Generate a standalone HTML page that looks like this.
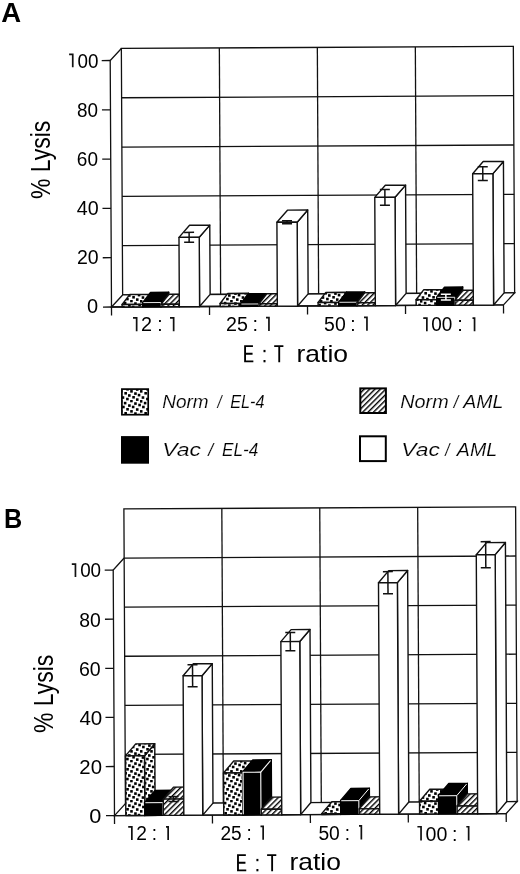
<!DOCTYPE html>
<html><head><meta charset="utf-8"><style>
html,body{margin:0;padding:0;background:#fff;}
body{width:520px;height:874px;overflow:hidden;font-family:"Liberation Sans",sans-serif;}
svg{display:block;will-change:transform;}
text{fill:#000;font-family:"Liberation Sans",sans-serif;}
text[font-style]{stroke:#fff;stroke-width:0.15px;}
</style></head><body>
<svg width="520" height="874" viewBox="0 0 520 874">
<defs>
<pattern id="pdot" patternUnits="userSpaceOnUse" width="20" height="20">
<rect width="20" height="20" fill="#fff"/>
<g fill="#000"><rect x="-0.18" y="0.03" width="2.6" height="2.6"/><rect x="-0.09" y="10.07" width="2.6" height="2.6"/><rect x="2.09" y="5.70" width="2.6" height="2.6"/><rect x="1.66" y="16.24" width="2.6" height="2.6"/><rect x="3.83" y="1.81" width="2.6" height="2.6"/><rect x="4.35" y="11.98" width="2.6" height="2.6"/><rect x="6.24" y="7.98" width="2.6" height="2.6"/><rect x="6.10" y="17.76" width="2.6" height="2.6"/><rect x="6.10" y="-2.24" width="2.6" height="2.6"/><rect x="8.09" y="4.26" width="2.6" height="2.6"/><rect x="8.02" y="14.17" width="2.6" height="2.6"/><rect x="10.12" y="-0.31" width="2.6" height="2.6"/><rect x="10.18" y="10.06" width="2.6" height="2.6"/><rect x="11.86" y="5.67" width="2.6" height="2.6"/><rect x="12.26" y="15.98" width="2.6" height="2.6"/><rect x="14.15" y="2.27" width="2.6" height="2.6"/><rect x="14.15" y="12.29" width="2.6" height="2.6"/><rect x="15.93" y="8.21" width="2.6" height="2.6"/><rect x="15.96" y="18.30" width="2.6" height="2.6"/><rect x="15.96" y="-1.70" width="2.6" height="2.6"/><rect x="18.27" y="3.72" width="2.6" height="2.6"/><rect x="-1.73" y="3.72" width="2.6" height="2.6"/><rect x="17.75" y="13.80" width="2.6" height="2.6"/><rect x="-2.25" y="13.80" width="2.6" height="2.6"/></g></pattern>
<pattern id="phat" patternUnits="userSpaceOnUse" width="3.8" height="3.8" patternTransform="rotate(45)">
<rect width="3.8" height="3.8" fill="#fff"/>
<rect x="0" y="0" width="1.4" height="3.8" fill="#000"/>
</pattern>
</defs>
<rect width="520" height="874" fill="#fff"/>
<polygon points="122.64,294.94 121.35,48.44 513.34,46.39 514.63,292.89" fill="#fff" stroke="#111" stroke-width="1.3" /><polyline points="122.38,245.64 514.37,243.59" fill="none" stroke="#111" stroke-width="1.3" /><polyline points="122.12,196.34 514.12,194.29" fill="none" stroke="#111" stroke-width="1.3" /><polyline points="121.86,147.04 513.86,144.99" fill="none" stroke="#111" stroke-width="1.3" /><polyline points="121.6,97.74 513.6,95.69" fill="none" stroke="#111" stroke-width="1.3" /><polyline points="219.35,47.93 220.64,294.43" fill="none" stroke="#111" stroke-width="1.3" /><polyline points="317.34,47.42 318.63,293.92" fill="none" stroke="#111" stroke-width="1.3" /><polyline points="415.34,46.91 416.63,293.4" fill="none" stroke="#111" stroke-width="1.3" /><polygon points="111.5,307 122.64,294.94 514.63,292.89 503.49,304.95" fill="#fff" stroke="#111" stroke-width="1.3" /><polyline points="111.54,315.5 110.21,60.5 121.35,48.44" fill="none" stroke="#111" stroke-width="1.3" /><polyline points="103,307.04 111.5,307" fill="none" stroke="#111" stroke-width="1.3" /><polyline points="102.74,257.75 111.24,257.7" fill="none" stroke="#111" stroke-width="1.3" /><polyline points="102.48,208.45 110.98,208.4" fill="none" stroke="#111" stroke-width="1.3" /><polyline points="102.23,159.15 110.73,159.1" fill="none" stroke="#111" stroke-width="1.3" /><polyline points="101.97,109.85 110.47,109.8" fill="none" stroke="#111" stroke-width="1.3" /><polyline points="101.71,60.55 110.21,60.5" fill="none" stroke="#111" stroke-width="1.3" /><polyline points="111.5,307 503.49,304.95" fill="none" stroke="#111" stroke-width="1.3" /><polyline points="209.5,306.49 209.54,314.99" fill="none" stroke="#111" stroke-width="1.3" /><polyline points="307.5,305.97 307.54,314.47" fill="none" stroke="#111" stroke-width="1.3" /><polyline points="405.5,305.46 405.54,313.96" fill="none" stroke="#111" stroke-width="1.3" /><polyline points="503.49,304.95 503.54,313.45" fill="none" stroke="#111" stroke-width="1.3" /><polygon points="142.8,306.84 142.79,304.37 150.53,294.33 150.55,296.8" fill="url(#pdot)" stroke="#111" stroke-width="1.4" stroke-linejoin="round"/><polygon points="122.09,304.48 129.83,294.44 150.53,294.33 142.79,304.37" fill="url(#pdot)" stroke="#111" stroke-width="1.4" stroke-linejoin="round"/><polygon points="122.1,306.94 122.09,304.48 142.79,304.37 142.8,306.84" fill="url(#pdot)" stroke="#111" stroke-width="1.4" stroke-linejoin="round"/><polygon points="161,306.74 160.98,302.3 168.72,292.26 168.75,296.7" fill="#000" stroke="#000" stroke-width="1.4" stroke-linejoin="round"/><polygon points="142.78,302.4 150.52,292.36 168.72,292.26 160.98,302.3" fill="#000" stroke="#000" stroke-width="1.4" stroke-linejoin="round"/><polygon points="142.8,306.84 142.78,302.4 160.98,302.3 161,306.74" fill="#000" stroke="#000" stroke-width="1.4" stroke-linejoin="round"/><polyline points="143.38,302.6 160.78,302.5 160.8,306.14" fill="none" stroke="#fff" stroke-width="0.9" /><polygon points="179.35,306.64 179.34,304.18 187.08,294.14 187.1,296.6" fill="url(#phat)" stroke="#111" stroke-width="1.4" stroke-linejoin="round"/><polygon points="160.99,304.28 168.73,294.24 187.08,294.14 179.34,304.18" fill="url(#phat)" stroke="#111" stroke-width="1.4" stroke-linejoin="round"/><polygon points="161,306.74 160.99,304.28 179.34,304.18 179.35,306.64" fill="url(#phat)" stroke="#111" stroke-width="1.4" stroke-linejoin="round"/><polygon points="199.6,306.54 199.24,237.27 209.77,225.12 210.14,294.38" fill="#fff" stroke="#111" stroke-width="1.4" stroke-linejoin="round"/><polygon points="178.99,237.38 189.52,225.22 209.77,225.12 199.24,237.27" fill="#fff" stroke="#111" stroke-width="1.4" stroke-linejoin="round"/><polygon points="179.35,306.64 178.99,237.38 199.24,237.27 199.6,306.54" fill="#fff" stroke="#111" stroke-width="1.4" stroke-linejoin="round"/><polyline points="189.09,232.4 189.14,242.26" fill="none" stroke="#111" stroke-width="1.5" /><polyline points="184.09,232.42 194.09,232.37" fill="none" stroke="#111" stroke-width="1.5" /><polyline points="184.14,242.28 194.14,242.23" fill="none" stroke="#111" stroke-width="1.5" /><polygon points="240.8,306.32 240.78,303.37 248.53,293.32 248.55,296.28" fill="url(#pdot)" stroke="#111" stroke-width="1.4" stroke-linejoin="round"/><polygon points="220.08,303.47 227.83,293.43 248.53,293.32 240.78,303.37" fill="url(#pdot)" stroke="#111" stroke-width="1.4" stroke-linejoin="round"/><polygon points="220.1,306.43 220.08,303.47 240.78,303.37 240.8,306.32" fill="url(#pdot)" stroke="#111" stroke-width="1.4" stroke-linejoin="round"/><polygon points="259,306.23 258.99,303.76 266.73,293.72 266.75,296.19" fill="#000" stroke="#000" stroke-width="1.4" stroke-linejoin="round"/><polygon points="240.79,303.86 248.53,293.82 266.73,293.72 258.99,303.76" fill="#000" stroke="#000" stroke-width="1.4" stroke-linejoin="round"/><polygon points="240.8,306.32 240.79,303.86 258.99,303.76 259,306.23" fill="#000" stroke="#000" stroke-width="1.4" stroke-linejoin="round"/><polyline points="241.39,304.05 258.79,303.96 258.79,305.63" fill="none" stroke="#fff" stroke-width="0.9" /><polygon points="277.35,306.13 277.33,303.67 285.08,293.63 285.1,296.09" fill="url(#phat)" stroke="#111" stroke-width="1.4" stroke-linejoin="round"/><polygon points="258.99,303.76 266.73,293.72 285.08,293.63 277.33,303.67" fill="url(#phat)" stroke="#111" stroke-width="1.4" stroke-linejoin="round"/><polygon points="259,306.23 258.99,303.76 277.33,303.67 277.35,306.13" fill="url(#phat)" stroke="#111" stroke-width="1.4" stroke-linejoin="round"/><polygon points="297.6,306.03 297.16,222.22 307.7,210.06 308.13,293.87" fill="#fff" stroke="#111" stroke-width="1.4" stroke-linejoin="round"/><polygon points="276.91,222.32 287.45,210.17 307.7,210.06 297.16,222.22" fill="#fff" stroke="#111" stroke-width="1.4" stroke-linejoin="round"/><polygon points="277.35,306.13 276.91,222.32 297.16,222.22 297.6,306.03" fill="#fff" stroke="#111" stroke-width="1.4" stroke-linejoin="round"/><polyline points="287.03,220.79 287.04,223.75" fill="none" stroke="#111" stroke-width="1.5" /><polyline points="282.03,220.82 292.03,220.76" fill="none" stroke="#111" stroke-width="1.5" /><polyline points="282.04,223.77 292.04,223.72" fill="none" stroke="#111" stroke-width="1.5" /><polygon points="338.8,305.81 338.78,302.36 346.53,292.32 346.54,295.77" fill="url(#pdot)" stroke="#111" stroke-width="1.4" stroke-linejoin="round"/><polygon points="318.08,302.47 325.83,292.43 346.53,292.32 338.78,302.36" fill="url(#pdot)" stroke="#111" stroke-width="1.4" stroke-linejoin="round"/><polygon points="318.1,305.92 318.08,302.47 338.78,302.36 338.8,305.81" fill="url(#pdot)" stroke="#111" stroke-width="1.4" stroke-linejoin="round"/><polygon points="357,305.71 356.98,302.02 364.72,291.98 364.74,295.67" fill="#000" stroke="#000" stroke-width="1.4" stroke-linejoin="round"/><polygon points="338.78,302.11 346.53,292.07 364.72,291.98 356.98,302.02" fill="#000" stroke="#000" stroke-width="1.4" stroke-linejoin="round"/><polygon points="338.8,305.81 338.78,302.11 356.98,302.02 357,305.71" fill="#000" stroke="#000" stroke-width="1.4" stroke-linejoin="round"/><polyline points="339.38,302.31 356.78,302.22 356.79,305.12" fill="none" stroke="#fff" stroke-width="0.9" /><polygon points="375.35,305.62 375.33,302.66 383.08,292.62 383.09,295.58" fill="url(#phat)" stroke="#111" stroke-width="1.4" stroke-linejoin="round"/><polygon points="356.98,302.76 364.73,292.72 383.08,292.62 375.33,302.66" fill="url(#phat)" stroke="#111" stroke-width="1.4" stroke-linejoin="round"/><polygon points="357,305.71 356.98,302.76 375.33,302.66 375.35,305.62" fill="url(#phat)" stroke="#111" stroke-width="1.4" stroke-linejoin="round"/><polygon points="395.6,305.51 395.03,197.3 405.57,185.15 406.13,293.36" fill="#fff" stroke="#111" stroke-width="1.4" stroke-linejoin="round"/><polygon points="374.78,197.41 385.32,185.25 405.57,185.15 395.03,197.3" fill="#fff" stroke="#111" stroke-width="1.4" stroke-linejoin="round"/><polygon points="375.35,305.62 374.78,197.41 395.03,197.3 395.6,305.51" fill="#fff" stroke="#111" stroke-width="1.4" stroke-linejoin="round"/><polyline points="384.86,189.47 384.95,205.24" fill="none" stroke="#111" stroke-width="1.5" /><polyline points="379.86,189.49 389.86,189.44" fill="none" stroke="#111" stroke-width="1.5" /><polyline points="379.95,205.27 389.95,205.22" fill="none" stroke="#111" stroke-width="1.5" /><polygon points="436.8,305.3 436.77,299.63 444.51,289.59 444.54,295.26" fill="url(#pdot)" stroke="#111" stroke-width="1.4" stroke-linejoin="round"/><polygon points="416.07,299.74 423.81,289.69 444.51,289.59 436.77,299.63" fill="url(#pdot)" stroke="#111" stroke-width="1.4" stroke-linejoin="round"/><polygon points="416.1,305.41 416.07,299.74 436.77,299.63 436.8,305.3" fill="url(#pdot)" stroke="#111" stroke-width="1.4" stroke-linejoin="round"/><polygon points="455,305.2 454.95,297.07 462.7,287.03 462.74,295.16" fill="#000" stroke="#000" stroke-width="1.4" stroke-linejoin="round"/><polygon points="436.75,297.16 444.5,287.12 462.7,287.03 454.95,297.07" fill="#000" stroke="#000" stroke-width="1.4" stroke-linejoin="round"/><polygon points="436.8,305.3 436.75,297.16 454.95,297.07 455,305.2" fill="#000" stroke="#000" stroke-width="1.4" stroke-linejoin="round"/><polyline points="437.35,297.36 454.75,297.27 454.79,304.6" fill="none" stroke="#fff" stroke-width="0.9" /><polyline points="445.84,294.16 445.87,300.07" fill="none" stroke="#fff" stroke-width="1.5" /><polyline points="440.84,294.18 450.84,294.13" fill="none" stroke="#fff" stroke-width="1.5" /><polyline points="440.87,300.1 450.87,300.05" fill="none" stroke="#fff" stroke-width="1.5" /><polygon points="473.35,305.11 473.32,300.18 481.07,290.13 481.09,295.06" fill="url(#phat)" stroke="#111" stroke-width="1.4" stroke-linejoin="round"/><polygon points="454.97,300.27 462.72,290.23 481.07,290.13 473.32,300.18" fill="url(#phat)" stroke="#111" stroke-width="1.4" stroke-linejoin="round"/><polygon points="455,305.2 454.97,300.27 473.32,300.18 473.35,305.11" fill="url(#phat)" stroke="#111" stroke-width="1.4" stroke-linejoin="round"/><polygon points="493.59,305 492.91,173.62 503.44,161.46 504.13,292.84" fill="#fff" stroke="#111" stroke-width="1.4" stroke-linejoin="round"/><polygon points="472.66,173.72 483.19,161.57 503.44,161.46 492.91,173.62" fill="#fff" stroke="#111" stroke-width="1.4" stroke-linejoin="round"/><polygon points="473.35,305.11 472.66,173.72 492.91,173.62 493.59,305" fill="#fff" stroke="#111" stroke-width="1.4" stroke-linejoin="round"/><polyline points="482.75,166.77 482.82,180.57" fill="none" stroke="#111" stroke-width="1.5" /><polyline points="477.75,166.79 487.75,166.74" fill="none" stroke="#111" stroke-width="1.5" /><polyline points="477.82,180.6 487.82,180.55" fill="none" stroke="#111" stroke-width="1.5" /><polygon points="125.44,803.54 123.89,508.95 515.61,506.9 517.15,801.49" fill="#fff" stroke="#111" stroke-width="1.3" /><polyline points="125.18,754.44 516.89,752.39" fill="none" stroke="#111" stroke-width="1.3" /><polyline points="124.92,705.34 516.64,703.29" fill="none" stroke="#111" stroke-width="1.3" /><polyline points="124.67,656.24 516.38,654.19" fill="none" stroke="#111" stroke-width="1.3" /><polyline points="124.41,607.15 516.12,605.09" fill="none" stroke="#111" stroke-width="1.3" /><polyline points="124.15,558.05 515.87,555.99" fill="none" stroke="#111" stroke-width="1.3" /><polyline points="221.82,508.43 223.37,803.03" fill="none" stroke="#111" stroke-width="1.3" /><polyline points="319.75,507.92 321.29,802.52" fill="none" stroke="#111" stroke-width="1.3" /><polyline points="417.68,507.41 419.22,802" fill="none" stroke="#111" stroke-width="1.3" /><polygon points="114.5,815.6 125.44,803.54 517.15,801.49 506.21,813.55" fill="#fff" stroke="#111" stroke-width="1.3" /><polyline points="114.54,824.1 113.21,570.1 124.15,558.05" fill="none" stroke="#111" stroke-width="1.3" /><polyline points="106,815.64 114.5,815.6" fill="none" stroke="#111" stroke-width="1.3" /><polyline points="105.74,766.55 114.24,766.5" fill="none" stroke="#111" stroke-width="1.3" /><polyline points="105.49,717.45 113.99,717.4" fill="none" stroke="#111" stroke-width="1.3" /><polyline points="105.23,668.35 113.73,668.3" fill="none" stroke="#111" stroke-width="1.3" /><polyline points="104.97,619.25 113.47,619.2" fill="none" stroke="#111" stroke-width="1.3" /><polyline points="104.71,570.15 113.21,570.1" fill="none" stroke="#111" stroke-width="1.3" /><polyline points="114.5,815.6 506.21,813.55" fill="none" stroke="#111" stroke-width="1.3" /><polyline points="212.43,815.09 212.47,823.59" fill="none" stroke="#111" stroke-width="1.3" /><polyline points="310.36,814.57 310.4,823.07" fill="none" stroke="#111" stroke-width="1.3" /><polyline points="408.29,814.06 408.33,822.56" fill="none" stroke="#111" stroke-width="1.3" /><polyline points="506.21,813.55 506.26,822.05" fill="none" stroke="#111" stroke-width="1.3" /><polygon points="144.85,815.44 144.54,755.79 154.77,743.73 155.09,803.39" fill="url(#pdot)" stroke="#111" stroke-width="1.4" stroke-linejoin="round"/><polygon points="125.49,755.89 135.72,743.83 154.77,743.73 144.54,755.79" fill="url(#pdot)" stroke="#111" stroke-width="1.4" stroke-linejoin="round"/><polygon points="125.8,815.54 125.49,755.89 144.54,755.79 144.85,815.44" fill="url(#pdot)" stroke="#111" stroke-width="1.4" stroke-linejoin="round"/><polygon points="163.35,815.34 163.28,802.33 173.52,790.28 173.59,803.29" fill="#000" stroke="#000" stroke-width="1.4" stroke-linejoin="round"/><polygon points="144.78,802.43 155.02,790.38 173.52,790.28 163.28,802.33" fill="#000" stroke="#000" stroke-width="1.4" stroke-linejoin="round"/><polygon points="144.85,815.44 144.78,802.43 163.28,802.33 163.35,815.34" fill="#000" stroke="#000" stroke-width="1.4" stroke-linejoin="round"/><polyline points="145.38,802.73 162.98,802.63 163.05,814.75" fill="none" stroke="#fff" stroke-width="1" /><polyline points="162.98,802.63 172.82,790.98" fill="none" stroke="#fff" stroke-width="1" /><polygon points="183.85,815.24 183.76,799.03 194,786.98 194.09,803.18" fill="url(#phat)" stroke="#111" stroke-width="1.4" stroke-linejoin="round"/><polygon points="163.26,799.14 173.5,787.09 194,786.98 183.76,799.03" fill="url(#phat)" stroke="#111" stroke-width="1.4" stroke-linejoin="round"/><polygon points="163.35,815.34 163.26,799.14 183.76,799.03 183.85,815.24" fill="url(#phat)" stroke="#111" stroke-width="1.4" stroke-linejoin="round"/><polyline points="173.5,796.63 173.53,801.54" fill="none" stroke="#111" stroke-width="1.5" /><polyline points="168.5,796.66 178.5,796.61" fill="none" stroke="#111" stroke-width="1.5" /><polyline points="168.53,801.57 178.53,801.52" fill="none" stroke="#111" stroke-width="1.5" /><polygon points="202.75,815.14 202.02,675.7 212.26,663.64 212.99,803.08" fill="#fff" stroke="#111" stroke-width="1.4" stroke-linejoin="round"/><polygon points="183.12,675.79 193.36,663.74 212.26,663.64 202.02,675.7" fill="#fff" stroke="#111" stroke-width="1.4" stroke-linejoin="round"/><polygon points="183.85,815.24 183.12,675.79 202.02,675.7 202.75,815.14" fill="#fff" stroke="#111" stroke-width="1.4" stroke-linejoin="round"/><polyline points="192.51,664.7 192.63,686.79" fill="none" stroke="#111" stroke-width="1.5" /><polyline points="187.51,664.72 197.51,664.67" fill="none" stroke="#111" stroke-width="1.5" /><polyline points="187.63,686.82 197.63,686.77" fill="none" stroke="#111" stroke-width="1.5" /><polygon points="242.78,814.93 242.56,772.95 252.8,760.89 253.02,802.87" fill="url(#pdot)" stroke="#111" stroke-width="1.4" stroke-linejoin="round"/><polygon points="223.51,773.05 233.75,760.99 252.8,760.89 242.56,772.95" fill="url(#pdot)" stroke="#111" stroke-width="1.4" stroke-linejoin="round"/><polygon points="223.73,815.03 223.51,773.05 242.56,772.95 242.78,814.93" fill="url(#pdot)" stroke="#111" stroke-width="1.4" stroke-linejoin="round"/><polygon points="261.28,814.83 261.05,771.87 271.29,759.82 271.52,802.78" fill="#000" stroke="#000" stroke-width="1.4" stroke-linejoin="round"/><polygon points="242.55,771.97 252.79,759.91 271.29,759.82 261.05,771.87" fill="#000" stroke="#000" stroke-width="1.4" stroke-linejoin="round"/><polygon points="242.78,814.93 242.55,771.97 261.05,771.87 261.28,814.83" fill="#000" stroke="#000" stroke-width="1.4" stroke-linejoin="round"/><polyline points="243.28,814.33 243.05,772.26 260.75,772.17 260.97,814.23" fill="none" stroke="#fff" stroke-width="1.1" /><polyline points="260.75,772.17 270.59,760.52" fill="none" stroke="#fff" stroke-width="1.1" /><polygon points="281.78,814.72 281.75,809.08 291.99,797.02 292.01,802.67" fill="url(#phat)" stroke="#111" stroke-width="1.4" stroke-linejoin="round"/><polygon points="261.25,809.19 271.49,797.13 291.99,797.02 281.75,809.08" fill="url(#phat)" stroke="#111" stroke-width="1.4" stroke-linejoin="round"/><polygon points="261.28,814.83 261.25,809.19 281.75,809.08 281.78,814.72" fill="url(#phat)" stroke="#111" stroke-width="1.4" stroke-linejoin="round"/><polygon points="300.68,814.63 299.77,641.55 310.01,629.5 310.91,802.57" fill="#fff" stroke="#111" stroke-width="1.4" stroke-linejoin="round"/><polygon points="280.87,641.65 291.11,629.6 310.01,629.5 299.77,641.55" fill="#fff" stroke="#111" stroke-width="1.4" stroke-linejoin="round"/><polygon points="281.78,814.72 280.87,641.65 299.77,641.55 300.68,814.63" fill="#fff" stroke="#111" stroke-width="1.4" stroke-linejoin="round"/><polyline points="290.27,632.52 290.37,650.68" fill="none" stroke="#111" stroke-width="1.5" /><polyline points="285.27,632.54 295.27,632.49" fill="none" stroke="#111" stroke-width="1.5" /><polyline points="285.37,650.71 295.37,650.66" fill="none" stroke="#111" stroke-width="1.5" /><polygon points="340.71,814.42 340.7,813.68 350.94,801.63 350.94,802.36" fill="url(#pdot)" stroke="#111" stroke-width="1.4" stroke-linejoin="round"/><polygon points="321.65,813.78 331.89,801.73 350.94,801.63 340.7,813.68" fill="url(#pdot)" stroke="#111" stroke-width="1.4" stroke-linejoin="round"/><polygon points="321.66,814.52 321.65,813.78 340.7,813.68 340.71,814.42" fill="url(#pdot)" stroke="#111" stroke-width="1.4" stroke-linejoin="round"/><polygon points="359.21,814.32 359.13,800.33 369.37,788.27 369.44,802.26" fill="#000" stroke="#000" stroke-width="1.4" stroke-linejoin="round"/><polygon points="340.63,800.42 350.87,788.37 369.37,788.27 359.13,800.33" fill="#000" stroke="#000" stroke-width="1.4" stroke-linejoin="round"/><polygon points="340.71,814.42 340.63,800.42 359.13,800.33 359.21,814.32" fill="#000" stroke="#000" stroke-width="1.4" stroke-linejoin="round"/><polyline points="341.24,800.72 358.83,800.63 358.9,813.72" fill="none" stroke="#fff" stroke-width="1" /><polyline points="358.83,800.63 368.67,788.98" fill="none" stroke="#fff" stroke-width="1" /><polygon points="379.71,814.21 379.68,808.81 389.92,796.76 389.94,802.16" fill="url(#phat)" stroke="#111" stroke-width="1.4" stroke-linejoin="round"/><polygon points="359.18,808.92 369.42,796.86 389.92,796.76 379.68,808.81" fill="url(#phat)" stroke="#111" stroke-width="1.4" stroke-linejoin="round"/><polygon points="359.21,814.32 359.18,808.92 379.68,808.81 379.71,814.21" fill="url(#phat)" stroke="#111" stroke-width="1.4" stroke-linejoin="round"/><polygon points="398.61,814.11 397.39,582.61 407.63,570.56 408.84,802.06" fill="#fff" stroke="#111" stroke-width="1.4" stroke-linejoin="round"/><polygon points="378.49,582.71 388.73,570.65 407.63,570.56 397.39,582.61" fill="#fff" stroke="#111" stroke-width="1.4" stroke-linejoin="round"/><polygon points="379.71,814.21 378.49,582.71 397.39,582.61 398.61,814.11" fill="#fff" stroke="#111" stroke-width="1.4" stroke-linejoin="round"/><polyline points="387.89,571.61 388,593.71" fill="none" stroke="#111" stroke-width="1.5" /><polyline points="382.89,571.64 392.89,571.59" fill="none" stroke="#111" stroke-width="1.5" /><polyline points="383,593.73 393,593.68" fill="none" stroke="#111" stroke-width="1.5" /><polygon points="438.64,813.9 438.57,801.14 448.81,789.08 448.87,801.85" fill="url(#pdot)" stroke="#111" stroke-width="1.4" stroke-linejoin="round"/><polygon points="419.52,801.24 429.76,789.18 448.81,789.08 438.57,801.14" fill="url(#pdot)" stroke="#111" stroke-width="1.4" stroke-linejoin="round"/><polygon points="419.59,814 419.52,801.24 438.57,801.14 438.64,813.9" fill="url(#pdot)" stroke="#111" stroke-width="1.4" stroke-linejoin="round"/><polygon points="457.14,813.81 457.04,795.39 467.28,783.34 467.37,801.75" fill="#000" stroke="#000" stroke-width="1.4" stroke-linejoin="round"/><polygon points="438.54,795.49 448.78,783.44 467.28,783.34 457.04,795.39" fill="#000" stroke="#000" stroke-width="1.4" stroke-linejoin="round"/><polygon points="438.64,813.9 438.54,795.49 457.04,795.39 457.14,813.81" fill="#000" stroke="#000" stroke-width="1.4" stroke-linejoin="round"/><polyline points="439.14,795.79 456.74,795.7 456.83,813.21" fill="none" stroke="#fff" stroke-width="1" /><polyline points="456.74,795.7 466.58,784.04" fill="none" stroke="#fff" stroke-width="1" /><polygon points="477.64,813.7 477.59,805.84 487.83,793.79 487.87,801.64" fill="url(#phat)" stroke="#111" stroke-width="1.4" stroke-linejoin="round"/><polygon points="457.09,805.95 467.33,793.9 487.83,793.79 477.59,805.84" fill="url(#phat)" stroke="#111" stroke-width="1.4" stroke-linejoin="round"/><polygon points="457.14,813.81 457.09,805.95 477.59,805.84 477.64,813.7" fill="url(#phat)" stroke="#111" stroke-width="1.4" stroke-linejoin="round"/><polygon points="496.53,813.6 495.18,554.6 505.42,542.55 506.77,801.55" fill="#fff" stroke="#111" stroke-width="1.4" stroke-linejoin="round"/><polygon points="476.28,554.7 486.52,542.65 505.42,542.55 495.18,554.6" fill="#fff" stroke="#111" stroke-width="1.4" stroke-linejoin="round"/><polygon points="477.64,813.7 476.28,554.7 495.18,554.6 496.53,813.6" fill="#fff" stroke="#111" stroke-width="1.4" stroke-linejoin="round"/><polyline points="485.66,541.64 485.8,567.66" fill="none" stroke="#111" stroke-width="1.5" /><polyline points="480.66,541.67 490.66,541.61" fill="none" stroke="#111" stroke-width="1.5" /><polyline points="480.8,567.69 490.8,567.64" fill="none" stroke="#111" stroke-width="1.5" />
<text x="1.14" y="21.6" font-size="27.6" font-weight="bold" textLength="19.87" lengthAdjust="spacingAndGlyphs">A</text><text x="4.08" y="528.2" font-size="27.6" font-weight="bold" textLength="18.22" lengthAdjust="spacingAndGlyphs">B</text><path d="M69.1 54.35H72.75V67.3" fill="none" stroke="#111" stroke-width="1.7"/><text x="77.52" y="67.5" font-size="20"  textLength="20.95" lengthAdjust="spacingAndGlyphs">00</text><text x="77.02" y="117" font-size="20"  textLength="21.02" lengthAdjust="spacingAndGlyphs">80</text><text x="76.87" y="165.9" font-size="20"  textLength="21.15" lengthAdjust="spacingAndGlyphs">60</text><text x="76.78" y="215.1" font-size="20"  textLength="21.93" lengthAdjust="spacingAndGlyphs">40</text><text x="77.01" y="264.2" font-size="20"  textLength="21.68" lengthAdjust="spacingAndGlyphs">20</text><text x="87.04" y="312.7" font-size="20"  textLength="11.11" lengthAdjust="spacingAndGlyphs">0</text><path d="M71.8 564.05H75.45V577.1" fill="none" stroke="#111" stroke-width="1.7"/><text x="80.15" y="577.3" font-size="20"  textLength="20.96" lengthAdjust="spacingAndGlyphs">00</text><text x="79.28" y="626.7" font-size="20"  textLength="21.53" lengthAdjust="spacingAndGlyphs">80</text><text x="78.96" y="675.8" font-size="20"  textLength="21.76" lengthAdjust="spacingAndGlyphs">60</text><text x="79.42" y="724.6" font-size="20"  textLength="22.86" lengthAdjust="spacingAndGlyphs">40</text><text x="79.33" y="773.7" font-size="20"  textLength="22.62" lengthAdjust="spacingAndGlyphs">20</text><text x="89.31" y="822.8" font-size="20"  textLength="12.08" lengthAdjust="spacingAndGlyphs">0</text><path d="M133 317.85H136.65V331.2" fill="none" stroke="#111" stroke-width="1.7"/><text x="141.11" y="331.2" font-size="20"  textLength="11.01" lengthAdjust="spacingAndGlyphs">2</text><text x="157.19" y="331.2" font-size="20"  textLength="5.39" lengthAdjust="spacingAndGlyphs">:</text><path d="M170 317.85H173.65V331.2" fill="none" stroke="#111" stroke-width="1.7"/><text x="226" y="331" font-size="20"  textLength="21.85" lengthAdjust="spacingAndGlyphs">25</text><text x="252.45" y="331" font-size="20"  textLength="5.52" lengthAdjust="spacingAndGlyphs">:</text><path d="M266 317.65H268.95V331" fill="none" stroke="#111" stroke-width="1.7"/><text x="324.11" y="330.8" font-size="20"  textLength="21.61" lengthAdjust="spacingAndGlyphs">50</text><text x="350.19" y="330.8" font-size="20"  textLength="5.39" lengthAdjust="spacingAndGlyphs">:</text><path d="M364 317.35H366.95V330.8" fill="none" stroke="#111" stroke-width="1.7"/><path d="M423.2 318.05H426.85V331.3" fill="none" stroke="#111" stroke-width="1.7"/><text x="431.3" y="331.3" font-size="20"  textLength="21.1" lengthAdjust="spacingAndGlyphs">00</text><text x="457.31" y="331.3" font-size="20"  textLength="5.55" lengthAdjust="spacingAndGlyphs">:</text><path d="M472.5 318.05H474.55V331.3" fill="none" stroke="#111" stroke-width="1.7"/><path d="M128.2 826.85H131.85V840" fill="none" stroke="#111" stroke-width="1.7"/><text x="136.2" y="840" font-size="20"  textLength="10.65" lengthAdjust="spacingAndGlyphs">2</text><text x="151.72" y="840" font-size="20"  textLength="5.25" lengthAdjust="spacingAndGlyphs">:</text><path d="M166 826.85H168.15V840" fill="none" stroke="#111" stroke-width="1.7"/><text x="220.4" y="839.8" font-size="20"  textLength="21.24" lengthAdjust="spacingAndGlyphs">25</text><text x="246.4" y="839.8" font-size="20"  textLength="5.25" lengthAdjust="spacingAndGlyphs">:</text><path d="M260.5 826.35H263.15V839.8" fill="none" stroke="#111" stroke-width="1.7"/><text x="318.42" y="839.5" font-size="20"  textLength="21.4" lengthAdjust="spacingAndGlyphs">50</text><text x="344.72" y="839.5" font-size="20"  textLength="5.25" lengthAdjust="spacingAndGlyphs">:</text><path d="M359 825.85H361.35V839.5" fill="none" stroke="#111" stroke-width="1.7"/><path d="M417.4 826.75H421.05V840.5" fill="none" stroke="#111" stroke-width="1.7"/><text x="425.53" y="840.5" font-size="20"  textLength="21.8" lengthAdjust="spacingAndGlyphs">00</text><text x="451.97" y="840.5" font-size="20"  textLength="5.42" lengthAdjust="spacingAndGlyphs">:</text><path d="M466.3 826.75H468.65V840.5" fill="none" stroke="#111" stroke-width="1.7"/><text x="296.52" y="361.9" font-size="24"  textLength="51.5" lengthAdjust="spacingAndGlyphs">ratio</text><text x="289.45" y="870.4" font-size="24"  textLength="51.42" lengthAdjust="spacingAndGlyphs">ratio</text><text x="162.27" y="407.8" font-size="19.2" font-style="italic" textLength="46.36" lengthAdjust="spacingAndGlyphs">Norm</text><text x="217.5" y="407.8" font-size="19.2" font-style="italic" textLength="4.19" lengthAdjust="spacingAndGlyphs">/</text><text x="230.16" y="407.7" font-size="19.2" font-style="italic" textLength="34.42" lengthAdjust="spacingAndGlyphs">EL-4</text><text x="162.35" y="456.2" font-size="19.2" font-style="italic" textLength="38.7" lengthAdjust="spacingAndGlyphs">Vac</text><text x="208.25" y="456.2" font-size="19.2" font-style="italic" textLength="4.92" lengthAdjust="spacingAndGlyphs">/</text><text x="222.08" y="456.2" font-size="19.2" font-style="italic" textLength="36.23" lengthAdjust="spacingAndGlyphs">EL-4</text><text x="400.27" y="407.8" font-size="19.2" font-style="italic" textLength="48.35" lengthAdjust="spacingAndGlyphs">Norm</text><text x="453.83" y="407.8" font-size="19.2" font-style="italic" textLength="4.55" lengthAdjust="spacingAndGlyphs">/</text><text x="463.32" y="407.8" font-size="19.2" font-style="italic" textLength="40.11" lengthAdjust="spacingAndGlyphs">AML</text><text x="401.38" y="456.2" font-size="19.2" font-style="italic" textLength="38.49" lengthAdjust="spacingAndGlyphs">Vac</text><text x="445.33" y="456.2" font-size="19.2" font-style="italic" textLength="4.25" lengthAdjust="spacingAndGlyphs">/</text><text x="456.87" y="456.2" font-size="19.2" font-style="italic" textLength="40.2" lengthAdjust="spacingAndGlyphs">AML</text><path d="M245.08 345.2V362.3M244.15 346.12H252.95M244.15 353.75H252.55M244.15 361.38H253.35" fill="none" stroke="#000" stroke-width="1.85"/><rect x="263.5" y="349.9" width="2" height="2.3" fill="#000"/><rect x="263.5" y="360" width="2" height="2.3" fill="#000"/><path d="M274.2 346.12H283.4M279.23 345.2V362.3" fill="none" stroke="#000" stroke-width="1.85"/><path d="M237.98 854.2V871.3M237.05 855.12H245.85M237.05 862.75H245.45M237.05 870.38H246.25" fill="none" stroke="#000" stroke-width="1.85"/><rect x="256.4" y="858.9" width="2" height="2.3" fill="#000"/><rect x="256.4" y="869" width="2" height="2.3" fill="#000"/><path d="M267.1 855.12H276.3M272.13 854.2V871.3" fill="none" stroke="#000" stroke-width="1.85"/><text transform="translate(50.3 198.97) rotate(-90)" font-size="28" textLength="78.3" lengthAdjust="spacingAndGlyphs">% Lysis</text><text transform="translate(53 732.97) rotate(-90)" font-size="28" textLength="78.3" lengthAdjust="spacingAndGlyphs">% Lysis</text>
<rect x="121.9" y="389.1" width="26.3" height="25.6" fill="url(#pdot)" stroke="#000" stroke-width="1.7"/><rect x="122" y="437.1" width="26" height="25.6" fill="#000" stroke="#000" stroke-width="2"/><rect x="360.3" y="388.4" width="25.6" height="24.6" fill="url(#phat)" stroke="#000" stroke-width="2"/><rect x="360" y="436.3" width="25.8" height="24.8" fill="#fff" stroke="#000" stroke-width="2"/>
</svg>
</body></html>
